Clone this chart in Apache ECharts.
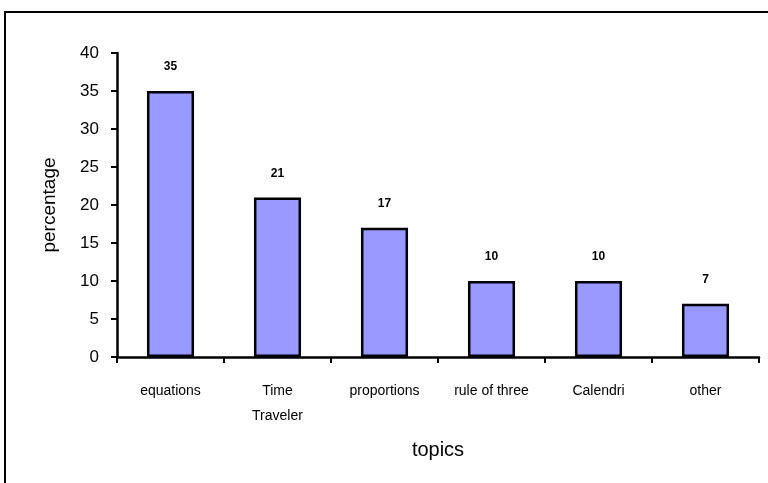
<!DOCTYPE html>
<html>
<head>
<meta charset="utf-8">
<script src="https://cdn.jsdelivr.net/npm/echarts@6/dist/echarts.min.js"></script>
<style>
html,body{margin:0;padding:0;background:#fff;}
#chart{width:768px;height:483px;}
</style>
</head>
<body>
<div id="chart"></div>
<script>
var categories = ['equations', 'Time\nTraveler', 'proportions', 'rule of three', 'Calendri', 'other'];
var values = [35, 21, 17, 10, 10, 7];
var yTicks = [0, 5, 10, 15, 20, 25, 30, 35, 40];

var chart = echarts.init(document.getElementById('chart'), null, {renderer: 'canvas'});
var font = 'Liberation Sans, Arial, sans-serif';
chart.setOption({
  animation: false,
  backgroundColor: '#fff',
  graphic: [{
    type: 'rect',
    shape: {x: 5, y: 12, width: 800, height: 500},
    style: {fill: 'none', stroke: '#000', lineWidth: 2},
    silent: true
  }],
  grid: {left: 117, right: 9, top: 53, bottom: 126, containLabel: false},
  xAxis: {
    type: 'category',
    data: categories,
    name: 'topics',
    nameLocation: 'middle',
    nameGap: 83,
    nameTextStyle: {fontFamily: font, fontSize: 20, color: '#000'},
    axisLine: {lineStyle: {color: '#000', width: 2.5}},
    axisTick: {show: true, length: 6, lineStyle: {color: '#000', width: 2}, alignWithLabel: false},
    axisLabel: {fontFamily: font, fontSize: 14, color: '#000', margin: 22, lineHeight: 25, interval: 0},
    splitLine: {show: false}
  },
  yAxis: {
    type: 'value',
    min: yTicks[0],
    max: yTicks[yTicks.length - 1],
    interval: 5,
    name: 'percentage',
    nameLocation: 'middle',
    nameGap: 58,
    nameTextStyle: {fontFamily: font, fontSize: 19, color: '#000'},
    axisLine: {show: true, lineStyle: {color: '#000', width: 2.5}},
    axisTick: {show: true, length: 6, lineStyle: {color: '#000', width: 2}},
    axisLabel: {fontFamily: font, fontSize: 17, color: '#000', margin: 18},
    splitLine: {show: false}
  },
  series: [{
    type: 'bar',
    data: values,
    barCategoryGap: '56%',
    itemStyle: {color: '#9999FF', borderColor: '#000', borderWidth: 2.5},
    label: {show: true, position: 'top', distance: 18, fontFamily: font, fontSize: 12, fontWeight: 'bold', color: '#000'}
  }]
});
</script>
</body>
</html>
